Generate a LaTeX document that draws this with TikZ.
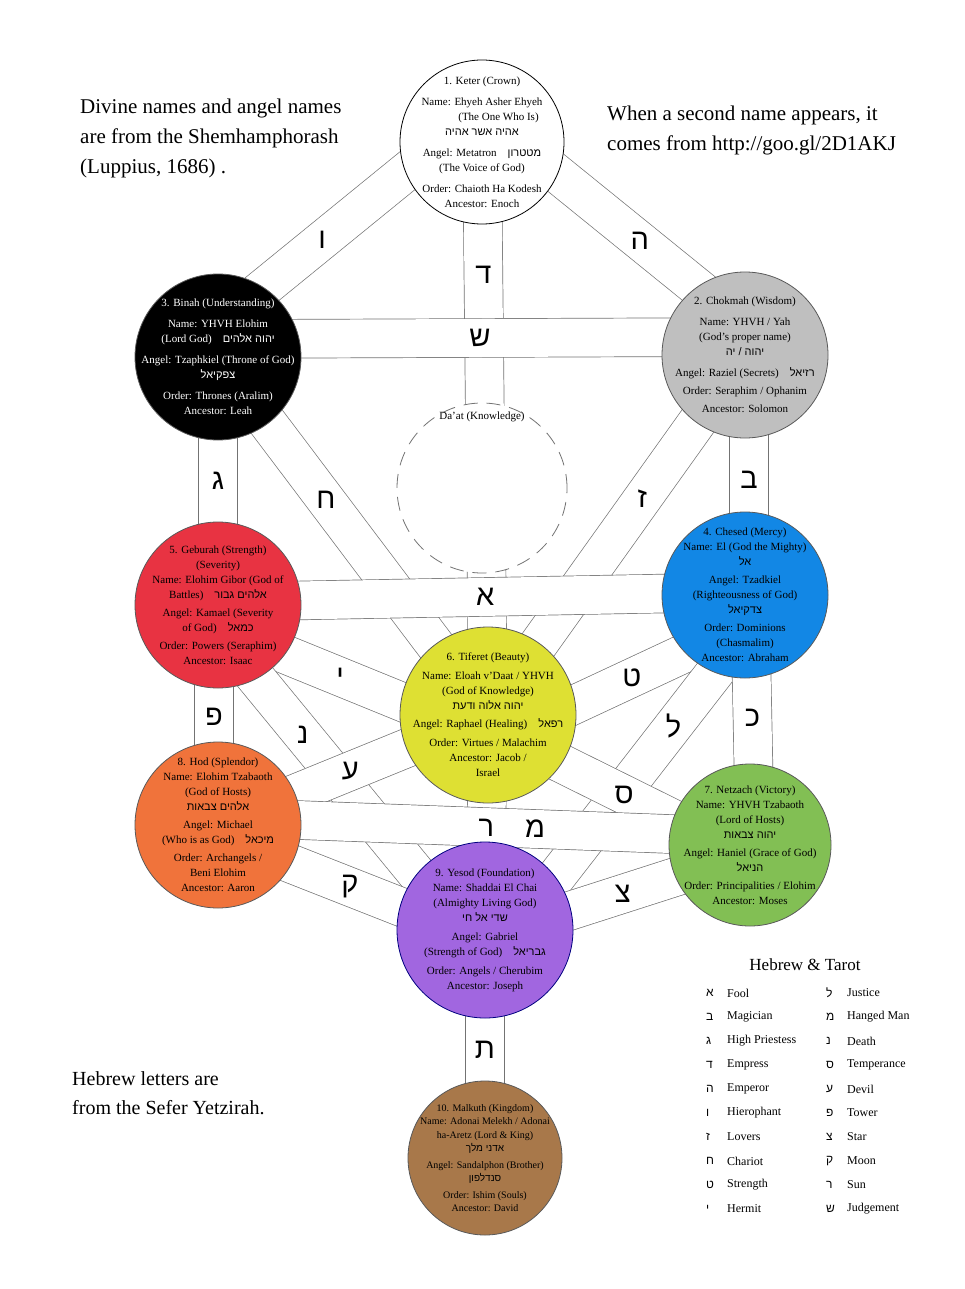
\documentclass[tikz,border=0pt]{standalone}
\usepackage{fontspec}
\setmainfont{Liberation Serif}
\newfontfamily\hebfont[Script=Hebrew]{Liberation Sans}
\TeXXeTstate=1
\usetikzlibrary{
  backgrounds
}
\usepackage{xcolor}
\definecolor{bandGray}{rgb}{0.45,0.45,0.45}
\definecolor{chokGray}{rgb}{0.75,0.75,0.75}
\definecolor{gebRed}{rgb}{0.91,0.20,0.26}
\definecolor{chesBlue}{rgb}{0.07,0.53,0.90}
\definecolor{tifYellow}{rgb}{0.87,0.88,0.20}
\definecolor{hodOrange}{rgb}{0.94,0.45,0.23}
\definecolor{netGreen}{rgb}{0.51,0.75,0.33}
\definecolor{yesPurple}{rgb}{0.63,0.40,0.88}
\definecolor{malBrown}{rgb}{0.66,0.47,0.29}
\newcommand{\heb}[1]{{\hebfont\beginR #1\endR}}
\newcommand{\sefText}[2]{\node[sefText] (#1T) at (#1) {#2};}
\tikzset{
  sephira/.style={
    circle,
    draw=black!65,
    line width=0.8pt,
    minimum size=166pt,
    inner sep=0pt
  }
}
\tikzset{
  sefText/.style={
    align=center,
    inner sep=0pt,
    font=\fontsize{11}{15}\selectfont
  }
}
\tikzset{
  band/.style={
    draw=bandGray,
    line width=0.7pt,
    double=white,
    double distance=38pt
  }
}
\tikzset{
  pathLetter/.style={
    inner sep=1pt,
    font=\hebfont\fontsize{29}{29}\selectfont
  }
}
\tikzset{
  note/.style={
    anchor=north west,
    align=left,
    inner sep=0pt,
    font=\fontsize{21}{30}\selectfont
  }
}
\tikzset{
  legendText/.style={
    anchor=west,
    inner sep=0pt,
    font=\fontsize{12}{12}\selectfont
  }
}
\newcommand{\pathList}{
  keter/chokmah/0/-29/0.60/ה,
  keter/binah/0/-32/0.606/ו,
  chokmah/tiferet/0/0/0.40/ז,
  binah/tiferet/0/0/0.40/ח,
  chesed/tiferet/0/30/0.44/ט,
  geburah/tiferet/0/22/0.452/י,
  chesed/yesod/30/0/0.39/ל,
  geburah/yesod/-22/0/0.40/נ,
  tiferet/hod/0/0/0.51/ע,
  tiferet/netzach/0/12/0.52/ס,
  hod/yesod/0/10/0.494/ק,
  netzach/yesod/0/8/0.48/צ,
  keter/tiferet/0/0/0.232/ד,
  chokmah/chesed/4/0/0.52/ב,
  binah/geburah/0/0/0.5/ג,
  chesed/netzach/5/0/0.49/כ,
  geburah/hod/-4/0/0.51/פ,
  tiferet/yesod/0/0/0.526/ר,
  yesod/malkuth/0/0/0.526/ת,
  binah/chokmah/0/-18/0.497/ש,
  geburah/chesed/0/-3/0.507/א,
  hod/netzach/0/-8/0.596/מ}

\begin{document}
\begin{tikzpicture}[x=1pt, y=-1pt]
  \useasboundingbox (0,0) rectangle (964,1289);
  \node[sephira, draw=black, fill=white, minimum size=164pt] (keter) at (482,142) {};
  \node[sephira, fill=chokGray] (chokmah) at (745,355) {};
  \node[sephira, fill=black] (binah) at (218,357) {};
  \node[sephira, fill=white, draw=black!55, dash pattern=on 14pt off 9pt,
    minimum size=170pt] (daat) at (482,488) {};
  \node[sephira, fill=chesBlue] (chesed) at (745,595) {};
  \node[sephira, fill=gebRed] (geburah) at (218,605) {};
  \node[sephira, fill=tifYellow, minimum size=176pt] (tiferet) at (488,715) {};
  \node[sephira, fill=netGreen, minimum size=162pt] (netzach) at (750,845) {};
  \node[sephira, fill=hodOrange] (hod) at (218,825) {};
  \node[sephira, fill=yesPurple, draw=blue!50!black, minimum size=176pt] (yesod) at (485,930) {};
  \node[sephira, fill=malBrown, minimum size=154pt] (malkuth) at (485,1158) {};

  \begin{pgfonlayer}{background}
    \fill[white] (0,0) rectangle (964,1289);
    \foreach \a/\b/\dx/\dy/\p/\l in \pathList {
      \draw[band] ([shift={(\dx,\dy)}]\a.center) -- ([shift={(\dx,\dy)}]\b.center);
    }
    \foreach \a/\b/\dx/\dy/\p/\l in \pathList {
      \path ([shift={(\dx,\dy)}]\a.center) --
        node[pathLetter, pos=\p] (L\a\b) {\l} ([shift={(\dx,\dy)}]\b.center);
    }
  \end{pgfonlayer}

  \sefText{keter}{1. Keter (Crown)\\[6pt]
    Name: Ehyeh Asher Ehyeh\\
    \hspace*{3em}(The One Who Is)\\
    \heb{אהיה אשר אהיה}\\[6pt]
    Angel: Metatron\quad\heb{מטטרון}\\
    (The Voice of God)\\[6pt]
    Order: Chaioth Ha Kodesh\\
    Ancestor: Enoch}
  \node[sefText, text=white] (binahT) at (binah) {3. Binah (Understanding)\\[6pt]
    Name: YHVH Elohim\\
    (Lord God)\quad\heb{יהוה אלהים}\\[6pt]
    Angel: Tzaphkiel (Throne of God)\\
    \heb{צפקיאל}\\[6pt]
    Order: Thrones (Aralim)\\
    Ancestor: Leah};
  \sefText{chokmah}{2. Chokmah (Wisdom)\\[6pt]
    Name: YHVH / Yah\\
    (God's proper name)\\
    \heb{יהוה / יה}\\[6pt]
    Angel: Raziel (Secrets)\quad\heb{רזיאל}\\[3pt]
    Order: Seraphim / Ophanim\\[3pt]
    Ancestor: Solomon}
  \node[sefText, font=\fontsize{11}{14}\selectfont] (daatT) at ([yshift=71pt]daat.center) {Da'at (Knowledge)};
  \sefText{geburah}{5. Geburah (Strength)\\
    (Severity)\\
    Name: Elohim Gibor (God of\\
    Battles)\quad\heb{אלהים גבור}\\[3pt]
    Angel: Kamael (Severity\\
    of God)\quad\heb{כמאל}\\[3pt]
    Order: Powers (Seraphim)\\
    Ancestor: Isaac}
  \sefText{chesed}{4. Chesed (Mercy)\\
    Name: El (God the Mighty)\\
    \heb{אל}\\[3pt]
    Angel: Tzadkiel\\
    (Righteousness of God)\\
    \heb{צדקיאל}\\[3pt]
    Order: Dominions\\
    (Chasmalim)\\
    Ancestor: Abraham}
  \sefText{tiferet}{6. Tiferet (Beauty)\\[4pt]
    Name: Eloah v'Daat / YHVH\\
    (God of Knowledge)\\
    \heb{יהוה אלוה ודעת}\\[3pt]
    Angel: Raphael (Healing)\quad\heb{רפאל}\\[4pt]
    Order: Virtues / Malachim\\
    Ancestor: Jacob /\\
    Israel}
  \sefText{hod}{8. Hod (Splendor)\\
    Name: Elohim Tzabaoth\\
    (God of Hosts)\\
    \heb{אלהים צבאות}\\[3pt]
    Angel: Michael\\
    (Who is as God)\quad\heb{מיכאל}\\[3pt]
    Order: Archangels /\\
    Beni Elohim\\
    Ancestor: Aaron}
  \sefText{netzach}{7. Netzach (Victory)\\
    Name: YHVH Tzabaoth\\
    (Lord of Hosts)\\
    \heb{יהוה צבאות}\\[3pt]
    Angel: Haniel (Grace of God)\\
    \heb{הניאל}\\[3pt]
    Order: Principalities / Elohim\\
    Ancestor: Moses}
  \sefText{yesod}{9. Yesod (Foundation)\\
    Name: Shaddai El Chai\\
    (Almighty Living God)\\
    \heb{שדי אל חי}\\[4pt]
    Angel: Gabriel\\
    (Strength of God)\quad\heb{גבריאל}\\[4pt]
    Order: Angels / Cherubim\\
    Ancestor: Joseph}
  \node[sefText, font=\fontsize{10}{13.5}\selectfont] (malkuthT) at (malkuth) {10. Malkuth (Kingdom)\\
    Name: Adonai Melekh / Adonai\\
    ha-Aretz (Lord \& King)\\
    \heb{אדני מלך}\\[3pt]
    Angel: Sandalphon (Brother)\\
    \heb{סנדלפון}\\[3pt]
    Order: Ishim (Souls)\\
    Ancestor: David};

  \node[note] (noteDivine) at (80,99) {Divine names and angel names\\
    are from the Shemhamphorash\\
    (Luppius, 1686) .};
  \node[note] (noteSecond) at (607,106) {When a second name appears, it\\
    comes from http://goo.gl/2D1AKJ};
  \node[note, font=\fontsize{20}{29}\selectfont] (noteLetters) at (72,1071) {Hebrew letters are\\
    from the Sefer Yetzirah.};

  \node[font=\fontsize{17}{17}\selectfont] (legendTitle) at (805,965) {Hebrew \& Tarot};
  \foreach \l/\t [count=\i] in {א/Fool, ב/Magician, ג/High Priestess, ד/Empress,
    ה/Emperor, ו/Hierophant, ז/Lovers, ח/Chariot, ט/Strength, י/Hermit}{
    \node[legendText] (legLa\i) at (706,{969+24*\i}) {\heb{\l}};
    \node[legendText] (legLt\i) at (727,{969+24*\i}) {\t};
  }
  \foreach \l/\t [count=\i] in {ל/Justice, מ/Hanged Man, נ/Death, ס/Temperance,
    ע/Devil, פ/Tower, צ/Star, ק/Moon, ר/Sun, ש/Judgement}{
    \node[legendText] (legRa\i) at (826,{969+24*\i}) {\heb{\l}};
    \node[legendText] (legRt\i) at (847,{969+24*\i}) {\t};
  }
\end{tikzpicture}
\end{document}
